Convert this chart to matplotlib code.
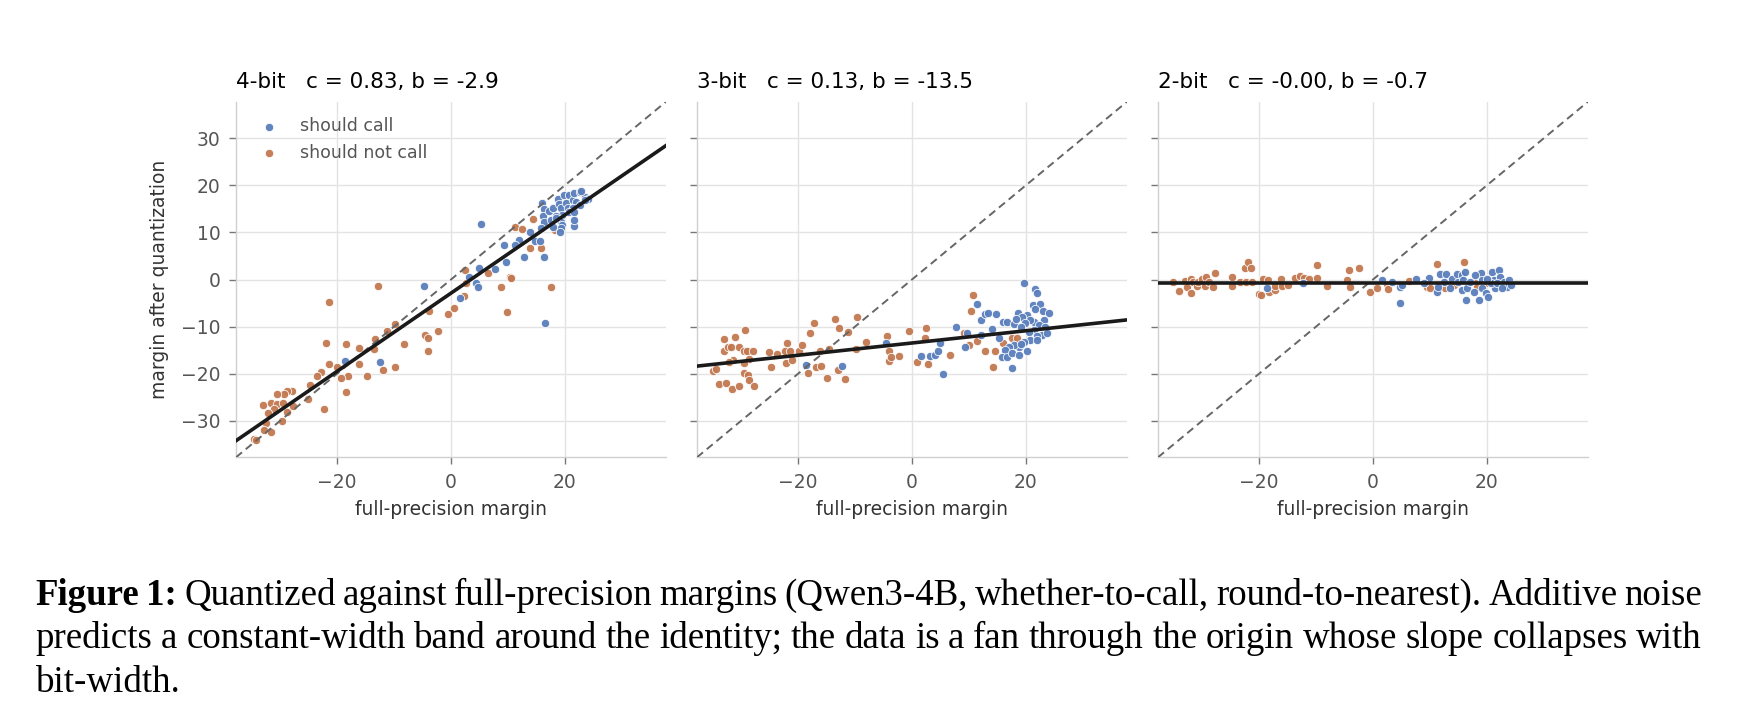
import matplotlib
matplotlib.use("Agg")
import numpy as np
import matplotlib.pyplot as plt

# ---- data ----
bits = ["4-bit", "3-bit", "2-bit"]
slopes = [0.83, 0.13, -0.00]
intercepts = [-2.9, -13.5, -0.7]

# 4-bit panel
p4_call_x = [5.3, 1.5, 3.2, 4.4, 4.7, 4.9, 7.8, 9.4, 9.7, 12.0, 11.3, 12.9, 13.9, 14.8, 15.7, 16.3, 16.5, -4.7, -18.6, -12.4, 21.6,
             16.0, 16.4, 16.1, 16.4, 17.2, 17.9, 18.8, 19.0, 19.4, 19.9, 20.2, 20.5, 20.8, 21.4, 21.7, 22.6, 22.0, 22.6, 23.5, 24.1,
             21.4, 19.6, 20.8, 21.7, 18.5, 17.6, 19.4, 21.7, 19.6, 17.9, 19.4, 18.5, 15.8, 23.5, 19.1, 22.9]
p4_call_y = [11.9, -4.0, 0.6, -0.8, -1.5, 2.5, 2.2, 7.3, 3.8, 8.5, 7.3, 4.8, 10.0, 8.2, 8.2, 4.8, -9.3, -1.4, -17.3, -17.5, 11.4,
             16.2, 14.9, 13.5, 12.3, 14.6, 15.1, 17.2, 16.0, 15.1, 17.9, 16.3, 15.1, 17.9, 16.9, 18.3, 18.7, 16.5, 15.8, 17.6, 17.2,
             15.1, 13.7, 14.4, 14.4, 13.4, 12.6, 12.3, 12.6, 11.6, 11.2, 10.9, 13.0, 10.9, 16.9, 10.2, 18.9]
p4_nocall_x = [-12.9, -21.5, -21.9, -21.4, -20.1, -22.9, -23.6, -24.8, -25.1, -28.0, -28.8, -29.3, -30.6, -33.1, -31.6, -30.6,
               -29.5, -31.2, -32.2, -28.8, -27.8, -29.7, -32.6, -32.8, -31.7, -34.6, -34.2, -22.4, -18.5, -18.4, -16.2, -16.2,
               -18.1, -19.4, -14.8, -13.3, -11.3, -9.9, -13.6, -11.9, -9.9, -8.2, -4.5, -4.0, -4.0, -2.3, -0.6, -3.9, 0.6, 2.2,
               2.4, 2.7, 6.5, 8.8, 9.9, 10.3, 10.6, 11.2, 12.5, 13.9, 14.5, 15.9, 17.6, 18.2]
p4_nocall_y = [-1.3, -4.8, -13.4, -18.0, -18.7, -19.6, -20.5, -22.5, -25.5, -23.8, -23.8, -24.3, -24.4, -26.7, -26.3, -26.5,
               -26.3, -27.5, -28.4, -28.1, -26.9, -30.1, -30.6, -32.1, -32.5, -34.0, -34.1, -27.6, -24.0, -13.8, -14.6, -18.0,
               -20.5, -20.9, -20.5, -12.7, -10.9, -9.5, -14.8, -19.3, -18.7, -13.8, -11.9, -12.5, -15.2, -10.9, -7.3, -6.6, -6.1,
               -3.5, 2.0, -0.8, 1.3, -1.7, -7.0, 0.5, 0.4, 11.2, 10.7, 6.6, 12.9, 6.8, -1.6, 10.6]

# 3-bit panel
p3_call_x = [-18.6, -12.3, -4.6, 1.6, 3.2, 4.1, 4.5, 4.9, 5.5, 7.8, 9.6, 11.5, 12.2, 12.9, 13.3, 14.8, 14.1, 12.2, 9.4, 16.0,
             16.7, 17.9, 18.7, 19.7, 21.6, 22.0, 21.2, 22.5, 21.6, 20.3, 19.4, 23.1, 24.1, 23.2, 21.4, 20.8, 19.9, 19.1, 22.3,
             23.4, 21.4, 20.6, 22.9, 22.0, 20.8, 19.7, 18.8, 17.9, 17.0, 16.4, 15.8, 16.7, 17.6, 18.8, 20.3, 17.6, 19.1, 23.8,
             21.9, 15.3, 18.2]
p3_call_y = [-18.2, -18.3, -13.6, -16.3, -16.2, -16.0, -15.3, -13.6, -20.1, -10.0, -11.3, -5.2, -8.7, -7.4, -7.2, -7.4, -10.6,
             -11.7, -14.4, -9.0, -9.0, -9.4, -7.1, -0.7, -2.1, -2.8, -5.4, -5.3, -6.3, -7.6, -7.9, -6.8, -7.2, -8.6, -9.0, -8.6,
             -9.3, -10.0, -9.7, -10.0, -10.7, -11.1, -11.8, -12.1, -12.9, -13.2, -14.3, -13.9, -14.3, -15.0, -16.4, -16.4,
             -15.7, -16.0, -15.3, -18.9, -13.7, -11.4, -12.9, -12.5, -8.3]
p3_nocall_x = [-34.9, -34.5, -34.0, -32.7, -33.0, -33.1, -32.3, -31.8, -31.6, -31.1, -31.4, -32.1, -30.5, -30.5, -29.3, -29.6,
               -29.0, -27.9, -28.6, -29.5, -29.6, -28.8, -28.6, -27.7, -25.1, -24.8, -23.7, -21.9, -22.3, -22.1, -21.4, -21.1,
               -19.9, -19.3, -18.0, -17.2, -18.3, -16.8, -16.0, -16.2, -14.6, -14.9, -13.6, -12.8, -13.0, -11.8, -11.3, -9.7,
               -9.8, -8.0, -4.4, -4.0, -4.0, -3.7, -2.2, -0.5, 0.9, 2.5, 2.2, 2.8, 6.6, 9.1, 10.0, 10.4, 10.8, 11.5, 12.8, 14.2,
               14.6, 16.0, 17.6, 18.4]
p3_nocall_y = [-19.4, -19.1, -22.3, -21.9, -12.6, -15.2, -14.3, -14.4, -23.3, -12.3, -17.1, -17.5, -22.6, -14.3, -10.7, -15.3,
               -15.2, -15.3, -16.8, -17.8, -19.9, -20.2, -21.4, -22.6, -15.4, -18.5, -15.8, -13.6, -15.2, -17.8, -15.3, -17.1,
               -15.3, -13.9, -11.3, -9.2, -19.8, -18.7, -18.3, -15.3, -14.8, -20.9, -8.5, -10.4, -19.2, -21.1, -11.2, -7.9,
               -14.8, -13.3, -12.0, -15.2, -17.3, -16.5, -16.2, -10.9, -17.6, -10.4, -12.4, -17.9, -16.1, -11.3, -13.9, -6.6,
               -3.4, -13.0, -15.3, -18.5, -15.3, -13.6, -12.4, -12.5]

# 2-bit panel
p2_call_x = [-18.7, -12.3, 1.6, 3.3, 4.7, 5.1, 4.7, 7.6, 9.8, 8.9, 11.3, 11.8, 12.8, 12.4, 13.9, 14.8, 15.0, 15.6, 15.9, 16.2,
             15.6, 16.5, 16.4, 17.1, 17.7, 18.6, 18.9, 19.2, 19.2, 19.8, 20.3, 20.9, 21.2, 21.5, 22.1, 22.4, 23.0, 23.9, 23.6,
             20.7, 20.0, 18.0, 21.8, 22.7, 24.2, 11.5, 13.6]
p2_call_y = [-1.9, -0.8, -0.1, -0.5, -1.5, -1.2, -4.9, 0.2, 0.4, -0.8, -2.6, 1.1, 1.1, -0.5, 0.2, 1.2, -0.5, 0.9, -0.1, 1.7,
             -2.2, -1.9, -4.4, -0.5, -2.6, -4.4, 1.3, -0.1, -1.9, -2.9, -3.7, 1.7, -0.1, -1.9, 2.0, 0.6, -0.5, -0.1, -1.5,
             -0.8, 0.2, 1.0, -0.8, -1.9, -1.2, -1.7, -1.9]
p2_nocall_x = [-35.1, -34.1, -33.0, -32.7, -32.0, -32.0, -31.6, -31.0, -30.7, -30.1, -29.5, -29.3, -28.8, -28.1, -27.8, -24.8,
               -24.8, -23.4, -22.5, -21.9, -21.5, -22.3, -21.3, -20.0, -19.7, -19.3, -18.4, -18.2, -17.3, -17.2, -16.2, -16.0,
               -14.9, -13.7, -12.9, -12.1, -11.3, -9.9, -9.9, -8.0, -4.3, -4.6, -4.1, -2.4, -0.6, 0.7, 2.4, 2.7, 6.4, 9.5,
               10.0, 11.2, 12.7, 14.2, 16.0, 17.7, 18.2, 19.8]
p2_nocall_y = [-0.5, -2.4, -0.3, -1.5, 0.1, -2.8, -0.5, -1.3, -0.5, 0.1, -1.3, 0.6, -0.5, -1.7, 1.3, 0.6, -1.4, -0.5, 2.5, 3.8,
               2.5, -0.6, -0.6, -3.1, -3.4, 0.1, 0.0, -2.7, -2.2, -1.4, 0.1, -1.3, -1.2, 0.4, 0.8, 0.4, 0.1, 3.1, 0.4, -1.3,
               2.0, -0.1, -1.7, 2.4, -2.7, -1.9, -1.0, -2.1, -0.3, -1.5, -1.9, 3.2, -1.9, -1.2, 3.8, -0.5, -1.5, -0.8]

x_ticks = [-20, 0, 20]
y_ticks = [-30, -20, -10, 0, 10, 20, 30]
lim = 37.8

caption_lines = [
    "Figure 1: Quantized against full-precision margins (Qwen3-4B, whether-to-call, round-to-nearest). Additive noise",
    "predicts a constant-width band around the identity; the data is a fan through the origin whose slope collapses with",
    "bit-width.",
]

# ---- figure ----
W, H = 1742, 726
fig = plt.figure(figsize=(W / 100, H / 100), dpi=100)

BLUE = "#5a7fbc"
ORANGE = "#c27850"
panel_data = [
    (p4_call_x, p4_call_y, p4_nocall_x, p4_nocall_y),
    (p3_call_x, p3_call_y, p3_nocall_x, p3_nocall_y),
    (p2_call_x, p2_call_y, p2_nocall_x, p2_nocall_y),
]
lefts = [236, 697, 1158]

for i, (cx, cy, nx, ny) in enumerate(panel_data):
    ax = fig.add_axes([lefts[i] / W, (H - 457.3) / H, 430 / W, 355.6 / H])
    ax.scatter(nx, ny, s=36, color=ORANGE, edgecolor="white", linewidth=0.6, alpha=0.95,
               label="should not call", zorder=2)
    ax.scatter(cx, cy, s=36, color=BLUE, edgecolor="white", linewidth=0.6, alpha=0.95,
               label="should call", zorder=2)
    xs = np.array([-lim, lim])
    ax.plot(xs, xs, color="#666666", lw=1.4, ls=(0, (4, 2.5)), zorder=3)
    ax.plot(xs, slopes[i] * xs + intercepts[i], color="#1a1a1a", lw=2.6, zorder=4)

    ax.set_xlim(-lim, lim)
    ax.set_ylim(-lim, lim)
    ax.set_xticks(x_ticks)
    ax.set_yticks(y_ticks)
    ax.grid(True, color="#e3e3e3", lw=1.0)
    ax.set_axisbelow(True)
    for side in ["top", "right"]:
        ax.spines[side].set_visible(False)
    for side in ["left", "bottom"]:
        ax.spines[side].set_color("#d0d0d0")
        ax.spines[side].set_linewidth(1.0)
    ax.tick_params(color="#777777", labelcolor="#555555", labelsize=13.5, length=5, width=1, pad=6)
    if i > 0:
        ax.tick_params(labelleft=False)
    ax.set_xlabel("full-precision margin", fontsize=13.5, color="#333333", labelpad=6)
    ax.set_title(f"{bits[i]}   c = {slopes[i]:.2f}, b = {intercepts[i]:.1f}",
                 loc="left", fontsize=15.5, pad=10)
    if i == 0:
        ax.set_ylabel("margin after quantization", fontsize=13.5, color="#333333", labelpad=9)
        h, l = ax.get_legend_handles_labels()
        ax.legend(h[::-1], l[::-1], loc="upper left", frameon=False, fontsize=12.5,
                  labelcolor="#555555")

# ---- caption (justified like the paper) ----
renderer = fig.canvas.get_renderer()
cap_left, cap_right = 35.6, 1702
baselines = [605, 648.3, 691.7]
for li, line in enumerate(caption_lines):
    words = line.split(" ")
    texts = []
    for wi, w in enumerate(words):
        bold = li == 0 and wi < 2
        t = fig.text(0, 1 - baselines[li] / H, w, fontsize=26.6, family="Liberation Serif",
                     weight="bold" if bold else "normal", va="baseline", ha="left")
        texts.append(t)
    widths = [t.get_window_extent(renderer).width for t in texts]
    if li < len(caption_lines) - 1:
        gap = (cap_right - cap_left - sum(widths)) / (len(texts) - 1)
    else:
        gap = 26.6 * 100 / 72 * 0.25
    x = cap_left
    for t, w in zip(texts, widths):
        t.set_x(x / W)
        x += w + gap

fig.savefig("out.png", dpi=100)
